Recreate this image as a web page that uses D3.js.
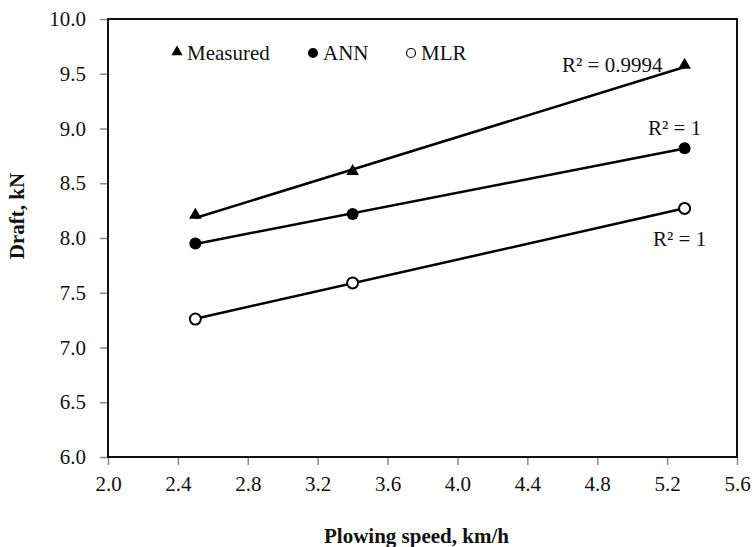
<!DOCTYPE html>
<html>
<head>
<meta charset="utf-8">
<script src="https://cdn.jsdelivr.net/npm/d3@7"></script>
<style>
  body { margin: 0; background: #fff; }
  text { font-family: "Liberation Serif", "Times New Roman", serif; fill: #111; }
</style>
</head>
<body>
<div id="chart"></div>
<script>
// data
const speeds = [2.5, 3.4, 5.3];
const measured = [8.2, 8.6, 9.57];
const ann = [7.95, 8.22, 8.82];
const mlr = [7.26, 7.59, 8.27];
const seriesNames = ["Measured", "ANN", "MLR"];
const r2Labels = ["R² = 0.9994", "R² = 1", "R² = 1"];
const xTicks = [2.0, 2.4, 2.8, 3.2, 3.6, 4.0, 4.4, 4.8, 5.2, 5.6];
const yTicks = [6.0, 6.5, 7.0, 7.5, 8.0, 8.5, 9.0, 9.5, 10.0];

const width = 755;
const height = 547;
const margin = { top: 19, right: 18, bottom: 90, left: 108 };

const svg = d3.select("#chart")
  .append("svg")
  .attr("width", width)
  .attr("height", height);

const x = d3.scaleLinear()
  .domain([2.0, 5.6])
  .range([margin.left, width - margin.right]);

const y = d3.scaleLinear()
  .domain([6.0, 10.0])
  .range([height - margin.bottom, margin.top]);

// axes
const xAxis = svg.append("g")
  .attr("transform", `translate(0,${height - margin.bottom})`)
  .call(d3.axisBottom(x).tickValues(xTicks).tickFormat(d3.format(".1f")).tickSize(8).tickPadding(11));

const yAxis = svg.append("g")
  .attr("transform", `translate(${margin.left},0)`)
  .call(d3.axisLeft(y).tickValues(yTicks).tickFormat(d3.format(".1f")).tickSize(8).tickPadding(14));

[xAxis, yAxis].forEach(g => {
  g.select(".domain").remove();
  g.selectAll(".tick line").attr("stroke", "#888").attr("stroke-width", 1.5);
  g.selectAll("text")
    .style("font-size", "21px")
    .style("font-family", "'Liberation Serif', serif")
    .attr("fill", "#111");
});

// plot frame
svg.append("rect")
  .attr("x", x(2.0))
  .attr("y", y(10.0))
  .attr("width", x(5.6) - x(2.0))
  .attr("height", y(6.0) - y(10.0))
  .attr("fill", "none")
  .attr("stroke", "#111")
  .attr("stroke-width", 2);

// linear trendline
function fit(xs, ys) {
  const mx = d3.mean(xs), my = d3.mean(ys);
  let sxy = 0, sxx = 0;
  xs.forEach((v, i) => { sxy += (v - mx) * (ys[i] - my); sxx += (v - mx) * (v - mx); });
  const b = sxy / sxx;
  const a = my - b * mx;
  return v => a + b * v;
}

const series = [measured, ann, mlr];
const xs = d3.extent(speeds);

series.forEach(vals => {
  const f = fit(speeds, vals);
  svg.append("line")
    .attr("x1", x(xs[0]))
    .attr("y1", y(f(xs[0])))
    .attr("x2", x(xs[1]))
    .attr("y2", y(f(xs[1])))
    .attr("stroke", "#000")
    .attr("stroke-width", 2.5);
});

const tri = d3.symbol().type(d3.symbolTriangle);

// markers
svg.append("g")
  .selectAll("path")
  .data(speeds.map((s, i) => [s, measured[i]]))
  .join("path")
  .attr("d", tri.size(70)())
  .attr("transform", d => `translate(${x(d[0])},${y(d[1]) - 1})`)
  .attr("fill", "#000");

svg.append("g")
  .selectAll("circle")
  .data(speeds.map((s, i) => [s, ann[i]]))
  .join("circle")
  .attr("cx", d => x(d[0]))
  .attr("cy", d => y(d[1]))
  .attr("r", 6)
  .attr("fill", "#000");

svg.append("g")
  .selectAll("circle")
  .data(speeds.map((s, i) => [s, mlr[i]]))
  .join("circle")
  .attr("cx", d => x(d[0]))
  .attr("cy", d => y(d[1]))
  .attr("r", 5.5)
  .attr("fill", "#fff")
  .attr("stroke", "#000")
  .attr("stroke-width", 2);

// R² labels
const r2Pos = [[562, 72], [648, 135], [653, 246]];
svg.append("g")
  .selectAll("text")
  .data(r2Labels)
  .join("text")
  .attr("x", (d, i) => r2Pos[i][0])
  .attr("y", (d, i) => r2Pos[i][1])
  .style("font-size", "21px")
  .text(d => d);

// legend
const legendX = [177, 313, 411];
const legendY = 53;
const lg = svg.append("g");
seriesNames.forEach((name, i) => {
  if (i === 0) {
    lg.append("path")
      .attr("d", tri.size(55)())
      .attr("transform", `translate(${legendX[i]},${legendY - 1})`)
      .attr("fill", "#000");
  } else {
    lg.append("circle")
      .attr("cx", legendX[i])
      .attr("cy", legendY)
      .attr("r", i === 1 ? 5 : 4.5)
      .attr("fill", i === 1 ? "#000" : "#fff")
      .attr("stroke", "#000")
      .attr("stroke-width", i === 1 ? 0 : 1.2);
  }
  lg.append("text")
    .attr("x", legendX[i] + 10)
    .attr("y", legendY + 7)
    .style("font-size", "21px")
    .text(name);
});

// axis titles
svg.append("text")
  .attr("x", (x(2.0) + x(5.6)) / 2 - 6)
  .attr("y", 543)
  .attr("text-anchor", "middle")
  .style("font-size", "21px")
  .style("font-weight", "bold")
  .text("Plowing speed, km/h");

svg.append("text")
  .attr("transform", "translate(24,216) rotate(-90)")
  .attr("text-anchor", "middle")
  .style("font-size", "21px")
  .style("font-weight", "bold")
  .text("Draft, kN");
</script>
</body>
</html>
